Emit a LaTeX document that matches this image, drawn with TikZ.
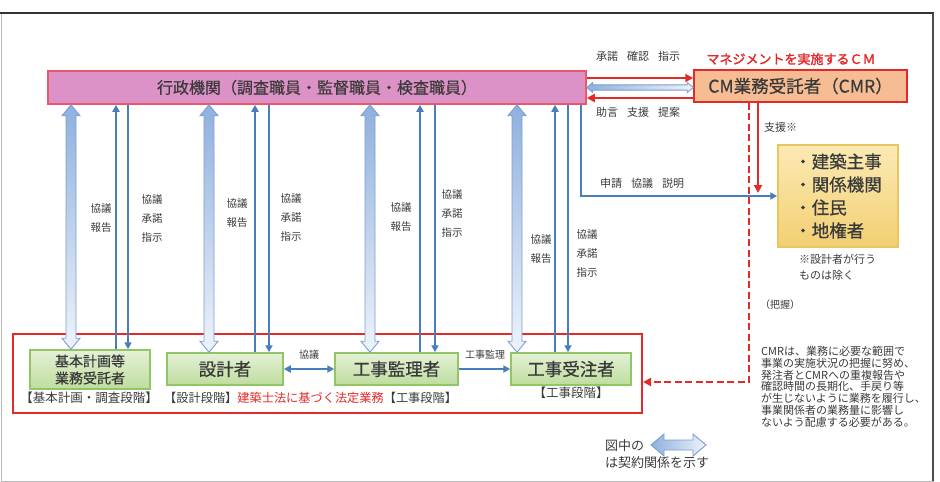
\documentclass[tikz,border=0pt]{standalone}
\usepackage{fontspec}
\setmainfont{Noto Sans CJK JP}
\newfontfamily\jpbold{Noto Sans CJK JP}[FakeBold=2]
\newfontfamily\jpmed{Noto Sans CJK JP}[FakeBold=0.6]
\usetikzlibrary{arrows.meta,calc}
\definecolor{cblue}{HTML}{4A7EBB}
\definecolor{cred}{HTML}{E32A2A}
\definecolor{barfill}{HTML}{DC92C6}
\definecolor{barline}{HTML}{E8576A}
\definecolor{cmrfill}{HTML}{F6BC94}
\definecolor{gfillt}{HTML}{E4F1D6}
\definecolor{gfillb}{HTML}{BEDD9E}
\definecolor{gline}{HTML}{92C565}
\definecolor{yfillt}{HTML}{FCEAB4}
\definecolor{yfillb}{HTML}{F2CF72}
\definecolor{yline}{HTML}{EBC55E}
\definecolor{harrl}{HTML}{7C9ED0}
\definecolor{harrt}{HTML}{8FB0DE}
\definecolor{harrb}{HTML}{EEF3FA}
\definecolor{txt}{HTML}{3A3A3A}
\tikzset{
  lbl/.style={font=\fontsize{10.5}{19}\selectfont, text=txt, align=center, inner sep=0pt},
  small/.style={font=\fontsize{11}{13}\selectfont, text=txt, inner sep=0pt},
  barbox/.style={draw=barline, line width=1.5pt, fill=barfill, text=txt, font=\fontsize{16}{18}\jpmed},
  cmrbox/.style={draw=cred, line width=1.5pt, fill=cmrfill, text=txt, font=\fontsize{17.5}{20}\jpmed},
  gbox/.style={draw=gline, line width=1.5pt, top color=gfillt, bottom color=gfillb, text=txt, align=center, inner sep=0pt},
  ybox/.style={draw=yline, line width=1.5pt, top color=yfillt, bottom color=yfillb, text=txt, align=left, font=\fontsize{17.5}{23}\jpmed},
  bluearr/.style={draw=cblue, line width=2pt, -{Triangle[length=7pt,width=7pt]}},
  bluedarr/.style={draw=cblue, line width=2pt, {Triangle[length=7pt,width=7pt]}-{Triangle[length=7pt,width=7pt]}},
  redarr/.style={draw=cred, line width=2.4pt, -{Triangle[length=8pt,width=8pt]}},
  reddash/.style={draw=cred, line width=2.4pt, dash pattern=on 7pt off 3.5pt, -{Triangle[length=8pt,width=8pt]}},
  thickarr/.style={draw=harrl, line width=0.9pt, top color=harrt, bottom color=harrb},
  harr/.style={draw=harrl, line width=0.9pt, left color=harrt, right color=harrb},
}
% vertical hollow double arrow: #1 top point, #2 bottom point
\newcommand\vthick[2]{%
  \path[thickarr] let \p1=(#1), \p2=(#2) in
    (\x1,\y1) -- (\x1+9pt,\y1-11pt) -- (\x1+5pt,\y1-11pt) -- (\x1+5pt,\y2+11pt)
    -- (\x1+9pt,\y2+11pt) -- (\x1,\y2) -- (\x1-9pt,\y2+11pt) -- (\x1-5pt,\y2+11pt)
    -- (\x1-5pt,\y1-11pt) -- (\x1-9pt,\y1-11pt) -- cycle;}
% horizontal hollow double arrow: #1 left, #2 right, #3 shaft half, #4 head half, #5 head length
\newcommand\hthick[5]{%
  \path[harr] let \p1=(#1), \p2=(#2) in
    (\x1,\y1) -- (\x1+#5,\y1+#4) -- (\x1+#5,\y1+#3) -- (\x2-#5,\y1+#3) -- (\x2-#5,\y1+#4)
    -- (\x2,\y1) -- (\x2-#5,\y1-#4) -- (\x2-#5,\y1-#3) -- (\x1+#5,\y1-#3) -- (\x1+#5,\y1-#4) -- cycle;}
\newcommand\gap{\hspace{9pt}}
\begin{document}
\begin{tikzpicture}[x=1pt,y=-1pt]
\useasboundingbox (0,0) rectangle (940,482);
% frame
\draw[gray!55, line width=1pt] (1,13) rectangle (933,481);
\draw[black!80, line width=1.6pt] (0,13) -- (933.5,13);
\draw[black!70, line width=1.2pt] (933,13) -- (933,481);

% top nodes
\node[barbox, minimum width=538pt, minimum height=33pt] (gov) at (317,87.5) {行政機関（調査職員・監督職員・検査職員）};
\node[cmrbox, minimum width=213pt, minimum height=32pt] (cmr) at (800.5,86) {CM業務受託者（CMR）};
\node[text=cred, font=\fontsize{13}{15}\jpbold, inner sep=0pt] (title) at (791,59) {マネジメントを実施するＣＭ};

% gov <-> cmr
\coordinate (ra) at (0,78);
\coordinate (rb) at (0,98);
\coordinate (rc) at (0,87.5);
\draw[redarr] (gov.east |- ra) -- (cmr.west |- ra);
\draw[redarr] (cmr.west |- rb) -- (gov.east |- rb);
\hthick{gov.east |- rc}{cmr.west |- rc}{2.6pt}{5pt}{6pt}
\node[small] (lab1) at (638,56) {承諾\gap 確認\gap 指示};
\node[small] (lab2) at (638,112) {助言\gap 支援\gap 提案};

% yellow box
\node[ybox, minimum width=120pt, minimum height=102pt, inner xsep=6pt] (yel) at (838,196) {・建築主事\\・関係機関\\・住民\\・地権者};
\node[small, anchor=west, align=left, font=\fontsize{11}{16}\selectfont] (note) at (799,267) {※設計者が行う\\ものは除く};

% CMR support arrows
\coordinate (s1) at (758,193);
\coordinate (dturn) at (749,382);
\draw[redarr] (cmr.south -| s1) -- (s1);
\node[small, anchor=west] (sup) at (764,127) {支援※};
\node[small, anchor=west, font=\fontsize{10}{12}\selectfont] (haaku) at (760,305) {（把握）};

% bottom red box
\node[draw=cred, line width=2pt, minimum width=629pt, minimum height=79pt, inner sep=0pt] (rbox) at (327.5,373.5) {};
\draw[reddash] (cmr.south -| dturn) -- (dturn) -- (rbox.east |- dturn);

% green boxes
\node[gbox, minimum width=120pt, minimum height=39pt, font=\fontsize{14}{17}\jpmed] (g1) at (90,369.5) {基本計画等\\業務受託者};
\node[gbox, minimum width=116pt, minimum height=32pt, font=\fontsize{17.5}{19}\jpmed] (g2) at (225,369) {設計者};
\node[gbox, minimum width=123pt, minimum height=32pt, font=\fontsize{17.5}{19}\jpmed] (g3) at (396.5,369) {工事監理者};
\node[gbox, minimum width=120pt, minimum height=32pt, font=\fontsize{17.5}{19}\jpmed] (g4) at (571,369) {工事受注者};

\draw[bluedarr] (g2.east) -- (g3.west);
\draw[bluearr] (g3.east) -- (g4.west);
\node[small, font=\fontsize{10}{12}\selectfont] (kyo) at (309,355) {協議};
\node[small, font=\fontsize{10}{12}\selectfont] (kkan) at (485,355) {工事監理};

\node[small, font=\fontsize{12.5}{14}\selectfont] (st1) at (89,398) {【基本計画・調査段階】};
\node[small, font=\fontsize{12.2}{14}\selectfont, anchor=west] (st2) at (164,398) {【設計段階】\textcolor{cred}{建築士法に基づく法定業務}【工事段階】};
\node[small, font=\fontsize{12.5}{14}\selectfont] (st3) at (571,393) {【工事段階】};

% vertical arrow positions
\foreach \n/\t/\u/\d in {1/71/116/128, 2/209/255/269, 3/370/420/435, 4/517/555/568}{
  \coordinate (t\n) at (\t,0);
  \coordinate (u\n) at (\u,0);
  \coordinate (d\n) at (\d,0);
}
\vthick{gov.south -| t1}{g1.north -| t1}
\vthick{gov.south -| t2}{g2.north -| t2}
\vthick{gov.south -| t3}{g3.north -| t3}
\vthick{gov.south -| t4}{g4.north -| t4}
\draw[bluearr] (g1.north -| u1) -- (gov.south -| u1);
\draw[bluearr] (gov.south -| d1) -- (g1.north -| d1);
\draw[bluearr] (g2.north -| u2) -- (gov.south -| u2);
\draw[bluearr] (gov.south -| d2) -- (g2.north -| d2);
\draw[bluearr] (g3.north -| u3) -- (gov.south -| u3);
\draw[bluearr] (gov.south -| d3) -- (g3.north -| d3);
\draw[bluearr] (g4.north -| u4) -- (gov.south -| u4);
\draw[bluearr] (gov.south -| d4) -- (g4.north -| d4);

% gov -> yellow
\coordinate (sx) at (581,0);
\draw[bluearr] (gov.south -| sx) |- (yel.west);
\node[small] (lab3) at (642,183) {申請\gap 協議\gap 説明};

% vertical labels
\node[lbl] (v1a) at (101,218) {協議\\報告};
\node[lbl] (v1b) at (152,218) {協議\\承諾\\指示};
\node[lbl] (v2a) at (237,213.5) {協議\\報告};
\node[lbl] (v2b) at (291,217) {協議\\承諾\\指示};
\node[lbl] (v3a) at (401,217.5) {協議\\報告};
\node[lbl] (v3b) at (452,213) {協議\\承諾\\指示};
\node[lbl] (v4a) at (541,249.5) {協議\\報告};
\node[lbl] (v4b) at (587,253.5) {協議\\承諾\\指示};

% paragraph
\node[small, anchor=north west, align=left, font=\fontsize{11}{11.8}\selectfont] (para) at (761,346)
 {CMRは、業務に必要な範囲で\\事業の実施状況の把握に努め、\\発注者とCMRへの重複報告や\\確認時間の長期化、手戻り等\\が生じないように業務を履行し、\\事業関係者の業務量に影響し\\ないよう配慮する必要がある。};

% legend
\node[small, anchor=west, font=\fontsize{13}{15}\selectfont] (lg1) at (605,446) {図中の};
\node[small, anchor=west, font=\fontsize{13}{15}\selectfont] (lg2) at (605,463) {は契約関係を示す};
\coordinate (la) at (651,445);
\coordinate (lb) at (706,445);
\hthick{la}{lb}{5pt}{11pt}{13pt}
\end{tikzpicture}
\end{document}
